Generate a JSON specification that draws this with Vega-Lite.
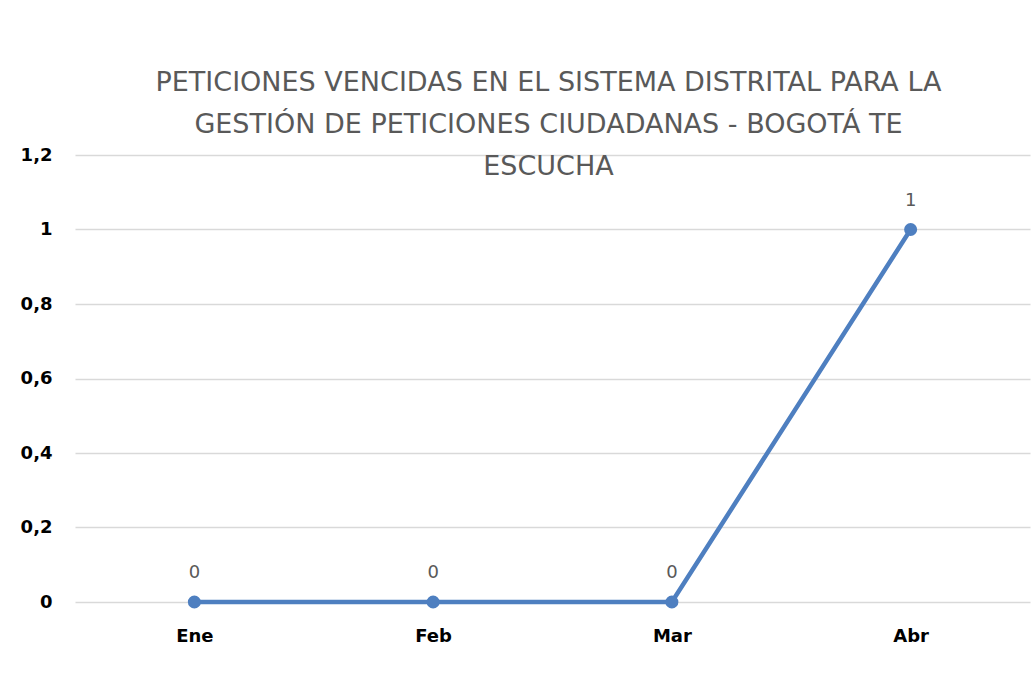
{
  "$schema": "https://vega.github.io/schema/vega-lite/v6.json",
  "autosize": {"type": "none"},
  "width": 955,
  "height": 447,
  "padding": {"left": 75, "top": 155, "right": 2, "bottom": 92},
  "background": "white",
  "title": {
    "text": ["PETICIONES VENCIDAS EN EL SISTEMA DISTRITAL PARA LA", "GESTIÓN DE PETICIONES CIUDADANAS - BOGOTÁ TE", "ESCUCHA"],
    "font": "DejaVu Sans",
    "fontSize": 27,
    "fontWeight": "normal",
    "color": "#595959",
    "lineHeight": 42,
    "anchor": "middle",
    "dx": -4,
    "dy": 35,
    "offset": 0
  },
  "data": {
    "values": [
      {"mes": "Ene", "valor": 0},
      {"mes": "Feb", "valor": 0},
      {"mes": "Mar", "valor": 0},
      {"mes": "Abr", "valor": 1}
    ]
  },
  "encoding": {
    "x": {
      "field": "mes",
      "type": "ordinal",
      "sort": null,
      "scale": {"type": "point", "padding": 0.5},
      "axis": {
        "title": null,
        "labelAngle": 0,
        "domain": false,
        "ticks": false,
        "labelPadding": 25,
        "labelFont": "DejaVu Sans",
        "labelFontSize": 18,
        "labelFontWeight": "bold",
        "labelColor": "#000000",
        "grid": false
      }
    },
    "y": {
      "field": "valor",
      "type": "quantitative",
      "scale": {"domain": [0, 1.2], "nice": false},
      "axis": {
        "title": null,
        "values": [0, 0.2, 0.4, 0.6, 0.8, 1, 1.2],
        "labelExpr": "replace(format(datum.value, '~g'), '.', ',')",
        "domain": false,
        "ticks": false,
        "labelPadding": 23,
        "labelFont": "DejaVu Sans",
        "labelFontSize": 18,
        "labelFontWeight": "bold",
        "labelColor": "#000000",
        "gridColor": "#d9d9d9",
        "gridWidth": 1.5
      }
    }
  },
  "layer": [
    {
      "mark": {"type": "line", "color": "#4e7fc0", "strokeWidth": 4.5, "point": {"filled": true, "size": 170, "color": "#4e7fc0"}},
      "encoding": {}
    },
    {
      "mark": {"type": "text", "dy": -29, "font": "DejaVu Sans", "fontSize": 18, "color": "#595959"},
      "encoding": {"text": {"field": "valor", "type": "quantitative"}}
    }
  ],
  "config": {"view": {"stroke": null}}
}
